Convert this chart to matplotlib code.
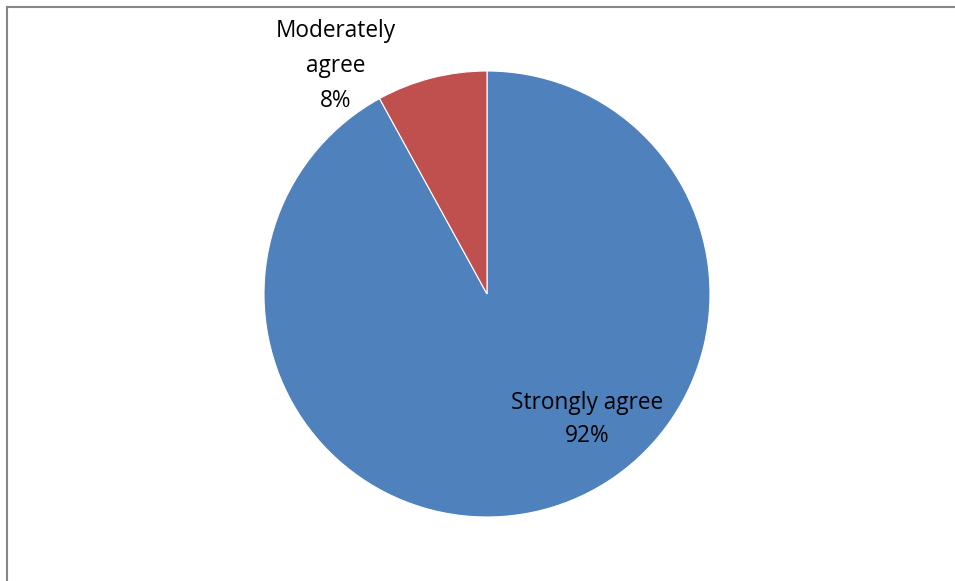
import matplotlib.pyplot as plt
from matplotlib.lines import Line2D

# data
labels = ['Strongly agree', 'Moderately agree']
label_text = ['Strongly agree\n92%', 'Moderately\nagree\n8%']
values = [92, 8]
colors = ['#4F81BD', '#C0504D']

plt.rcParams['font.family'] = ['Open Sans', 'DejaVu Sans']

W, H = 955, 581
fig = plt.figure(figsize=(W / 100, H / 100), dpi=100)

# pie centred at (487, 294) px, radius 223 px
cx, cy, r = 487, 294, 223
ax = fig.add_axes([(cx - r) / W, 1 - (cy + r) / H, 2 * r / W, 2 * r / H])
ax.pie(values, colors=colors, startangle=90, counterclock=False,
       wedgeprops=dict(edgecolor='white', linewidth=0.8))
ax.set_xlim(-1, 1)
ax.set_ylim(-1, 1)
ax.set_aspect('auto')
ax.axis('off')

# data labels
ax.text(0.448, -0.565, label_text[0], ha='center', va='center',
        fontsize=16.3, linespacing=1.5)
ax.text(-0.677, 1.022, label_text[1], ha='center', va='center',
        fontsize=16.3, linespacing=1.6, clip_on=False)

# chart border (left and top visible)
fig.add_artist(Line2D([7 / W, 7 / W], [0, 1 - 7 / H], color='#868686', lw=1.5,
                      transform=fig.transFigure))
fig.add_artist(Line2D([7 / W, 1], [1 - 7 / H, 1 - 7 / H], color='#868686', lw=1.5,
                      transform=fig.transFigure))

fig.savefig('out.png', dpi=100)
